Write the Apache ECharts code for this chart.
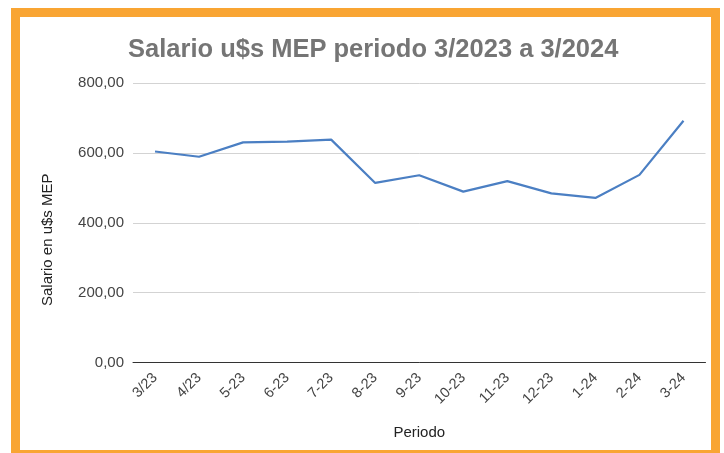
<!DOCTYPE html>
<html>
<head>
<meta charset="utf-8">
<script src="https://cdn.jsdelivr.net/npm/echarts@6/dist/echarts.min.js"></script>
<style>
html,body{margin:0;padding:0;background:#fff;}
#chart{width:724px;height:453px;}
</style>
</head>
<body>
<div id="chart"></div>
<script>
var categories = ['3/23','4/23','5-23','6-23','7-23','8-23','9-23','10-23','11-23','12-23','1-24','2-24','3-24'];
var salario = [604, 589, 630, 632, 638, 514, 536, 489, 519, 484, 471, 537, 692];
var yTicks = {min: 0, max: 800, interval: 200};

var chart = echarts.init(document.getElementById('chart'), null, {renderer: 'canvas'});
chart.setOption({
  animation: false,
  backgroundColor: '#ffffff',
  title: {
    text: 'Salario u$s MEP periodo 3/2023 a 3/2024',
    left: 123,
    top: 32,
    textStyle: {fontFamily: 'Liberation Sans, Arial, sans-serif', fontSize: 25.5, fontWeight: 'bold', color: '#757575'}
  },
  graphic: [{
    type: 'rect',
    shape: {x: 15.5, y: 12.5, width: 700, height: 442},
    style: {fill: 'none', stroke: '#F9A533', lineWidth: 9},
    silent: true
  }],
  grid: {left: 133, right: 18.5, top: 83, bottom: 90.5, containLabel: false},
  xAxis: {
    type: 'category',
    data: categories,
    boundaryGap: true,
    name: 'Periodo',
    nameLocation: 'middle',
    nameGap: 63,
    nameTextStyle: {fontFamily: 'Liberation Sans, Arial, sans-serif', fontSize: 15, color: '#222'},
    axisLine: {show: true, lineStyle: {color: '#333', width: 1}},
    axisTick: {show: false},
    axisLabel: {rotate: 45, margin: 13, interval: 0, padding: [11, 0, 0, 0], fontFamily: 'Liberation Sans, Arial, sans-serif', fontSize: 14.5, color: '#444'}
  },
  yAxis: {
    type: 'value',
    min: yTicks.min,
    max: yTicks.max,
    interval: yTicks.interval,
    name: 'Salario en u$s MEP',
    nameLocation: 'middle',
    nameGap: 78,
    nameTextStyle: {fontFamily: 'Liberation Sans, Arial, sans-serif', fontSize: 15, color: '#222', padding: [0, 34, 0, 0]},
    axisLine: {show: false},
    axisTick: {show: false},
    splitLine: {lineStyle: {color: '#d3d3d3', width: 1}},
    axisLabel: {
      margin: 9,
      fontFamily: 'Liberation Sans, Arial, sans-serif', fontSize: 15, color: '#444',
      formatter: function (v) { return v.toFixed(2).replace('.', ','); }
    }
  },
  series: [{
    type: 'line',
    data: salario,
    showSymbol: false,
    symbol: 'none',
    smooth: false,
    lineStyle: {color: '#4b7fc3', width: 2.2},
    itemStyle: {color: '#4b7fc3'}
  }]
});
</script>
</body>
</html>
